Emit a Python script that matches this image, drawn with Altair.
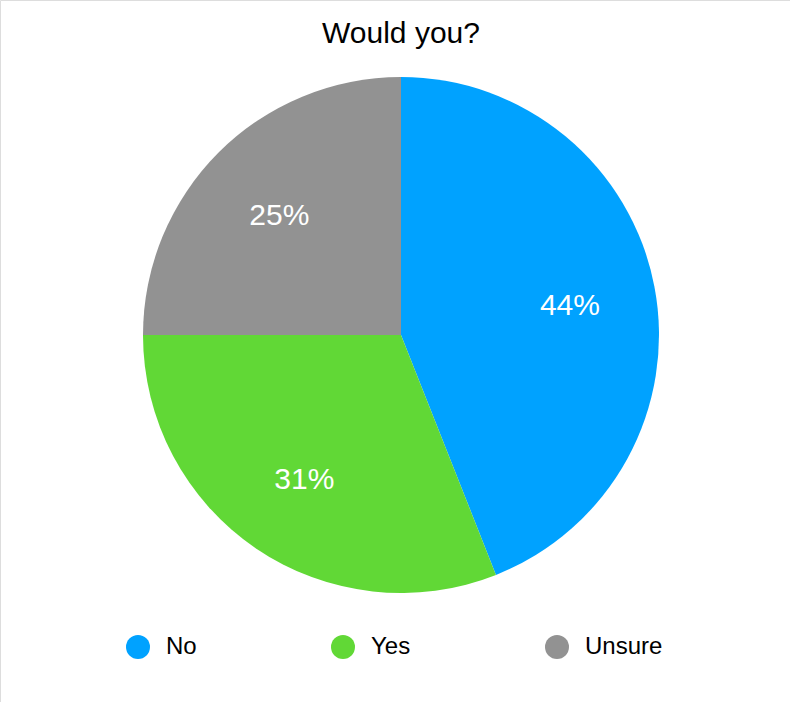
import altair as alt
import pandas as pd

# Survey answers, in drawing order (clockwise from 12 o'clock)
answers = ["No", "Yes", "Unsure"]
shares = [44, 31, 25]
colors = ["#00A2FF", "#61D836", "#929292"]
title_text = "Would you?"

FONT = "Liberation Sans"

df = pd.DataFrame({
    "answer": answers,
    "share": shares,
    "order": list(range(len(answers))),
    "label": [f"{v}%" for v in shares],
})

cx, cy, r = 401, 335, 258

base = alt.Chart(df).encode(
    theta=alt.Theta("share:Q", stack=True),
    order=alt.Order("order:O"),
    x=alt.value(cx),
    y=alt.value(cy),
)

pie = base.mark_arc(outerRadius=r, stroke=None).encode(
    color=alt.Color(
        "answer:N",
        scale=alt.Scale(domain=answers, range=colors),
        legend=alt.Legend(
            title=None,
            orient="none",
            legendX=126,
            legendY=635,
            direction="horizontal",
            symbolType="circle",
            symbolSize=576,
            symbolStrokeWidth=0,
            symbolOpacity=1,
            labelFont=FONT,
            labelFontSize=24,
            labelColor="#000000",
            labelOffset=16,
            columnPadding=134,
        ),
    )
)

labels = base.mark_text(
    radius=172, font=FONT, fontSize=30, color="white",
    align="center", baseline="middle", dy=3,
).encode(text="label:N")

title = alt.Chart(pd.DataFrame({"t": [title_text]})).mark_text(
    font=FONT, fontSize=30, color="#000000", align="center", baseline="alphabetic",
).encode(text="t:N", x=alt.value(cx), y=alt.value(43))

chart = alt.layer(pie, labels, title).properties(
    width=790, height=702,
    autosize=alt.AutoSizeParams(type="none"),
    padding=0,
).configure_view(stroke=None).configure(background="white")

chart.save("out.html", embed_options={"renderer": "svg", "actions": False})
